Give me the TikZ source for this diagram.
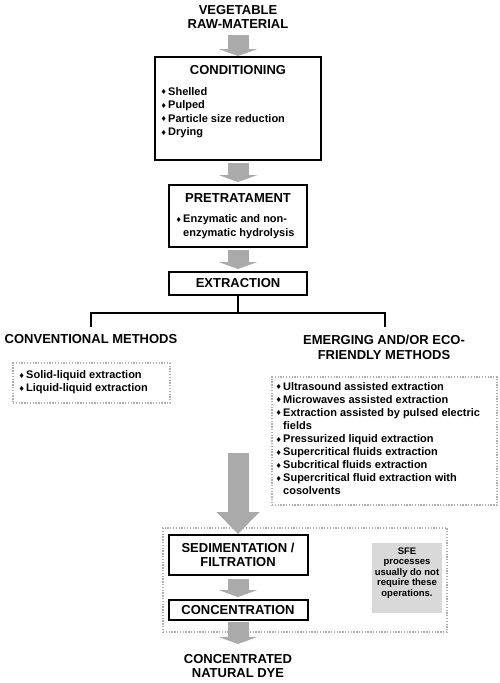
\documentclass[tikz,border=0pt]{standalone}
\usepackage{fontspec}
\setmainfont{Liberation Sans}
\newfontfamily\bulletfont{DejaVu Sans}
\usepackage{xcolor}
\definecolor{flowgray}{RGB}{170,170,170}
\definecolor{notegray}{RGB}{217,217,217}
\definecolor{dotgray}{RGB}{175,175,175}
\usetikzlibrary{arrows.meta,positioning}
\newcommand{\dmd}{\makebox[7.5pt][l]{\raisebox{0.4pt}{\bulletfont\fontsize{7}{7}\selectfont ♦}}}
\newcommand{\indt}{\hspace*{7.5pt}}

\begin{document}
\begin{tikzpicture}[x=1pt, y=-1pt,
  headline/.style={font=\fontsize{13}{14.5}\selectfont\bfseries, align=center, inner sep=0pt},
  stagebox/.style={rectangle, draw=black, line width=2pt, inner sep=0pt,
    font=\fontsize{13}{14.5}\selectfont\bfseries, align=center},
  itemlist/.style={font=\fontsize{11}{13.5}\selectfont\bfseries, align=left, inner sep=0pt, anchor=west},
  dotbox/.style={rectangle, draw=dotgray, line width=1.3pt, dash pattern=on 1.3pt off 1.5pt, inner sep=0pt},
  flow/.style={line width=21pt, draw=flowgray, -{Triangle[width=39pt, length=7pt, line width=0pt]}},
  bigflow/.style={line width=21pt, draw=flowgray, -{Triangle[width=43pt, length=22pt, line width=0pt]}},
  branch/.style={line width=2pt, draw=black}
]
\useasboundingbox (0,0) rectangle (499,683);

% main sequence
\node[headline] (raw) at (238,17) {VEGETABLE\\RAW-MATERIAL};

\node[stagebox, minimum width=166pt, minimum height=103pt] (cond) at (238,108.5) {};
\node[headline] (condT) at (238,70) {CONDITIONING};
\node[itemlist] (condL) at (160.5,112.5)
  {\dmd Shelled\\\dmd Pulped\\\dmd Particle size reduction\\\dmd Drying};

\node[stagebox, minimum width=138pt, minimum height=62pt] (pre) at (238,216) {};
\node[headline] (preT) at (238,198) {PRETRATAMENT};
\node[itemlist] (preL) at (175.5,226.5) {\dmd Enzymatic and non-\\\indt enzymatic hydrolysis};

\node[stagebox, minimum width=138pt, minimum height=23pt] (ext) at (238,283.5) {EXTRACTION};

\draw[flow, shorten <=6pt] (raw.south) -- (cond.north);
\draw[flow, shorten <=2pt, shorten >=2pt] (cond.south) -- (pre.north);
\draw[flow, shorten <=2pt, shorten >=2pt] (pre.south) -- (ext.north);

% branches
\coordinate (fork) at (238,313);
\coordinate (convTop) at (91,327);
\coordinate (emerTop) at (385,327);
\draw[branch] (ext.south) -- (fork);
\draw[branch] (convTop) |- (fork) -| (emerTop);

\node[headline] (conv) at (91,339) {CONVENTIONAL METHODS};
\node[dotbox, minimum width=157pt, minimum height=40pt] (convBox) at (91.5,383) {};
\node[itemlist, font=\fontsize{11}{13}\selectfont\bfseries] (convL) at (18.5,382.5)
  {\dmd Solid-liquid extraction\\\dmd Liquid-liquid extraction};

\node[headline] (emer) at (384,347.5) {EMERGING AND/OR ECO-\\FRIENDLY METHODS};
\node[dotbox, minimum width=225pt, minimum height=128pt] (emerBox) at (384.5,441) {};
\node[itemlist, font=\fontsize{11}{13.1}\selectfont\bfseries] (emerL) at (275.5,438.5)
  {\dmd Ultrasound assisted extraction\\
   \dmd Microwaves assisted extraction\\
   \dmd Extraction assisted by pulsed electric\\
   \indt fields\\
   \dmd Pressurized liquid extraction\\
   \dmd Supercritical fluids extraction\\
   \dmd Subcritical fluids extraction\\
   \dmd Supercritical fluid extraction with\\
   \indt cosolvents};

% final operations
\node[dotbox, minimum width=284pt, minimum height=104pt] (lowBox) at (305,580) {};
\node[stagebox, minimum width=139pt, minimum height=40pt] (sed) at (238,555) {SEDIMENTATION /\\FILTRATION};
\node[stagebox, minimum width=139pt, minimum height=20pt] (conc) at (238,610) {CONCENTRATION};
\node[headline] (dye) at (238,666) {CONCENTRATED\\NATURAL DYE};

\node[fill=notegray, minimum width=70pt, minimum height=70pt, inner sep=0pt] (sfe) at (407,578) {};
\node[font=\fontsize{9.5}{10.5}\selectfont\bfseries, align=center, inner sep=0pt] (sfeT) at (407,573)
  {SFE\\processes\\usually do not\\require these\\operations.};

\coordinate (merge) at (238,453);
\draw[bigflow] (merge) -- (sed.north);
\draw[flow, shorten <=3pt, shorten >=2pt] (sed.south) -- (conc.north);
\draw[flow, shorten <=1pt, shorten >=10pt] (conc.south) -- (dye.north);
\end{tikzpicture}
\end{document}
